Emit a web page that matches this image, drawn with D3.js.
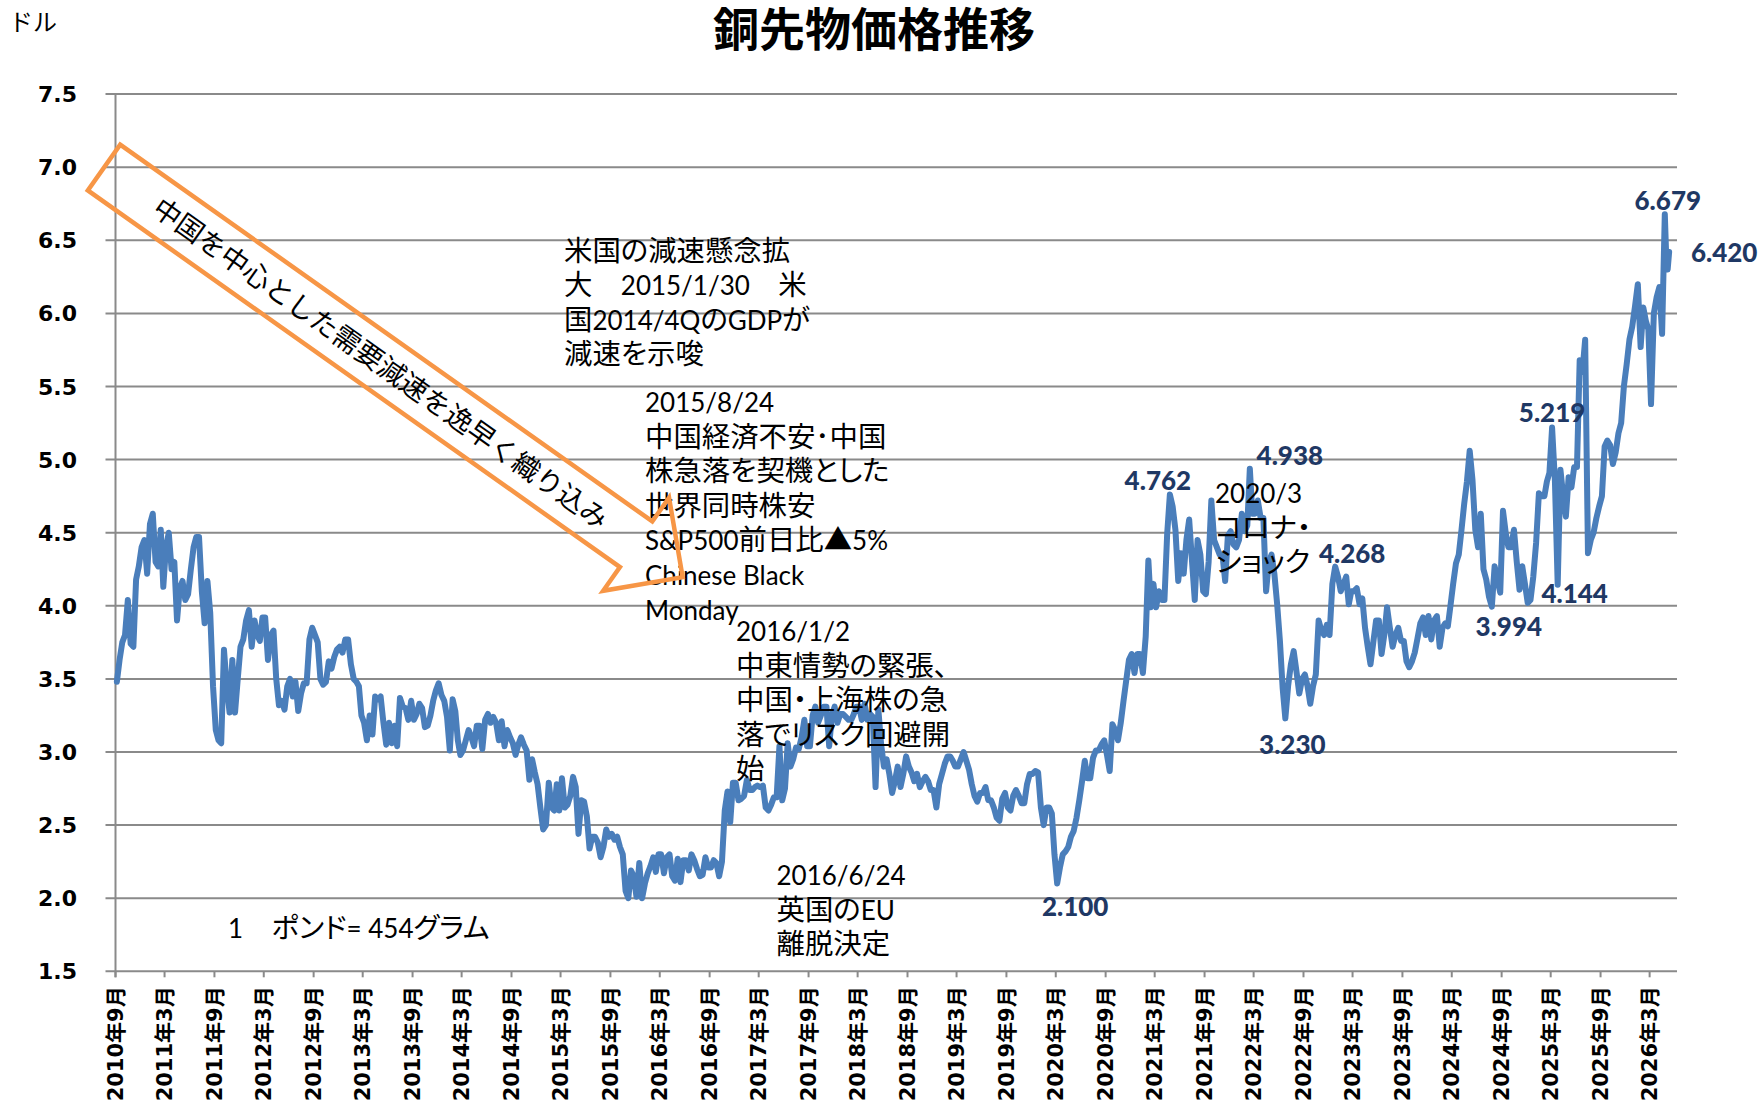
<!DOCTYPE html>
<html><head><meta charset="utf-8">
<script src="https://cdn.jsdelivr.net/npm/d3@7"></script>
<style>html,body{margin:0;padding:0;background:#fff}svg{display:block}</style>
</head><body>
<svg id="chart" width="1762" height="1110"></svg>
<script>
// ---------------- DATA ----------------
const years = [2010,2011,2012,2013,2014,2015,2016,2017,2018,2019,2020,2021,2022,2023,2024,2025,2026];
const firstMonths = [9,1,1,1,1,1,1,1,1,1,1,1,1,1,1,1,1];

// each inner array: readings within one month (USD per lb)
const p2010 = [[3.48,3.63,3.75],[3.80,4.04,3.74],[3.72,4.18,4.27],[4.40,4.45,4.22]];
const p2011 = [[4.56,4.63,4.30],[4.27,4.52,4.13],[4.40,4.50,4.25],[4.30,3.90,4.12],[4.17,4.04,4.08],[4.25,4.40,4.47],
               [4.47,4.10,3.88],[4.17,3.95,3.45],[3.15,3.08,3.06],[3.70,3.45,3.27],[3.63,3.27,3.50],[3.72,3.77,3.90]];
const p2012 = [[3.97,3.72,3.90],[3.80,3.76,3.92],[3.92,3.63,3.80],[3.83,3.50,3.32],[3.35,3.29,3.45],[3.50,3.38,3.48],
               [3.28,3.40,3.47],[3.47,3.77,3.85],[3.80,3.75,3.50],[3.46,3.48,3.62],[3.57,3.65,3.70],[3.72,3.68,3.77]];
const p2013 = [[3.77,3.60,3.50],[3.48,3.45,3.25],[3.20,3.08,3.25],[3.12,3.38,3.36],[3.38,3.20,3.05],[3.20,3.06,3.18],
               [3.04,3.37,3.31],[3.30,3.22,3.35],[3.22,3.26,3.33],[3.30,3.17,3.18],[3.25,3.35,3.42],[3.47,3.39,3.35]];
const p2014 = [[3.24,3.01,3.36],[3.28,3.08,2.98],[3.01,3.08,3.15],[3.10,3.04,3.18],[3.18,3.02,3.22],[3.26,3.20,3.24],
               [3.20,3.08,3.21],[3.04,3.15,3.10],[3.06,2.98,3.05],[3.10,3.05,3.01],[2.81,2.95,2.86],[2.78,2.62,2.47]];
const p2015 = [[2.50,2.79,2.62],[2.60,2.78,2.60],[2.82,2.62,2.64],[2.70,2.83,2.76],[2.44,2.67,2.66],[2.56,2.34,2.42],
               [2.42,2.38,2.28],[2.35,2.47,2.42],[2.44,2.40,2.42],[2.35,2.30,2.05],[2.00,2.19,2.15],[2.01,2.24,2.00]];
const p2016 = [[2.10,2.17,2.22],[2.28,2.18,2.30],[2.30,2.17,2.28],[2.30,2.15,2.12],[2.27,2.11,2.26],[2.26,2.19,2.30],
               [2.26,2.20,2.15],[2.16,2.28,2.21],[2.21,2.26,2.24],[2.15,2.25,2.60],[2.73,2.52,2.79],[2.79,2.67,2.68]];
const p2017 = [[2.70,2.81,2.74],[2.74,2.76,2.77],[2.76,2.77,2.62],[2.60,2.64,2.69],[2.69,3.04,2.67],[2.75,3.06,2.90],
               [2.95,3.03,3.02],[3.10,3.22,3.04],[3.04,3.25,3.31],[3.20,3.25,3.31],[3.31,3.04,3.25],[3.31,3.20,3.26]];
const p2018 = [[3.26,3.24,3.22],[3.22,3.26,3.31],[3.31,3.22,3.33],[3.22,3.26,3.24],[2.76,3.29,3.05],[2.90,2.95,2.85],
               [2.72,2.80,2.90],[2.76,2.85,2.97],[2.90,2.86,2.80],[2.85,2.76,2.80],[2.83,2.80,2.74],[2.74,2.62,2.78]];
const p2019 = [[2.85,2.92,2.97],[2.97,2.94,2.90],[2.90,2.95,3.00],[2.94,2.88,2.78],[2.70,2.66,2.72],[2.72,2.76,2.67],
               [2.67,2.62,2.55],[2.53,2.68,2.72],[2.62,2.60,2.70],[2.74,2.70,2.65],[2.65,2.78,2.85],[2.85,2.87,2.86]];
const p2020 = [[2.62,2.50,2.62],[2.62,2.58,2.30],[2.10,2.21,2.30],[2.32,2.35,2.42],[2.46,2.55,2.67],[2.80,2.94,2.82],
               [2.82,2.96,3.01],[3.01,3.05,3.08],[2.98,2.87,3.19],[3.15,3.08,3.20],[3.35,3.49,3.63],[3.67,3.54,3.67]];
const p2021 = [[3.67,3.54,3.79],[4.31,3.99,4.15],[3.99,4.10,4.04],[4.04,4.49,4.762],[4.68,4.52,4.17],[4.36,4.22,4.45],
               [4.59,4.31,4.04],[4.45,4.35,4.10],[4.08,4.30,4.72],[4.45,4.40,4.35],[4.35,4.17,4.48],[4.51,4.42,4.40]];
const p2022 = [[4.45,4.63,4.51],[4.55,4.938,4.63],[4.63,4.72,4.60],[4.60,4.10,4.30],[4.35,4.22,4.01],[3.76,3.44,3.23],
               [3.45,3.60,3.69],[3.55,3.40,3.50],[3.53,3.45,3.33],[3.45,3.53,3.90],[3.83,3.80,3.87],[3.80,4.15,4.268]];
const p2023 = [[4.20,4.10,4.15],[4.20,4.01,4.10],[4.10,4.12,4.01],[4.05,3.85,3.72],[3.60,3.75,3.90],[3.90,3.67,3.80],
               [3.99,3.85,3.72],[3.80,3.85,3.76],[3.76,3.62,3.58],[3.62,3.68,3.78],[3.88,3.92,3.80],[3.93,3.77,3.90]];
const p2024 = [[3.93,3.72,3.85],[3.88,3.86,4.00],[4.15,4.29,4.35],[4.52,4.70,4.85],[5.06,4.86,4.52],[4.40,4.63,4.25],
               [4.18,4.06,3.994],[4.27,4.18,4.09],[4.65,4.50,4.40],[4.40,4.52,4.30],[4.11,4.27,4.15],[4.02,4.04,4.20]];
const p2025 = [[4.43,4.77,4.75],[4.75,4.85,4.91],[5.219,4.86,4.144],[4.93,4.75,4.61],[4.88,4.81,4.95],[4.95,5.68,5.60],
               [5.82,4.36,4.45],[4.50,4.60,4.68],[4.75,5.09,5.13],[5.10,4.97,5.05],[5.18,5.25,5.50],[5.65,5.82,5.91]];
const p2026 = [[6.05,6.20,5.77],[6.04,5.95,5.89],[5.38,6.00,6.11],[6.18,5.86,6.679],[6.40,6.30,6.42]];
const pricesByYear = [p2010,p2011,p2012,p2013,p2014,p2015,p2016,p2017,p2018,p2019,p2020,p2021,p2022,p2023,p2024,p2025,p2026];
const seriesEnd = "2026-05-12";

const xTickLabels = ["2010年9月","2011年3月","2011年9月","2012年3月","2012年9月","2013年3月","2013年9月","2014年3月",
  "2014年9月","2015年3月","2015年9月","2016年3月","2016年9月","2017年3月","2017年9月","2018年3月","2018年9月",
  "2019年3月","2019年9月","2020年3月","2020年9月","2021年3月","2021年9月","2022年3月","2022年9月","2023年3月",
  "2023年9月","2024年3月","2024年9月","2025年3月","2025年9月","2026年3月"];
const yTickValues = [1.5,2.0,2.5,3.0,3.5,4.0,4.5,5.0,5.5,6.0,6.5,7.0,7.5];

const calloutValues = [4.762,4.938,4.268,3.230,2.100,3.994,4.144,5.219,6.679,6.420];
const calloutMonths = ["2021-04","2022-02","2022-12","2022-06","2020-03","2024-07","2025-03","2025-03","2026-04","2026-05"];

const titleText = "銅先物価格推移";
const unitText = "ドル";
const arrowText = "中国を中心とした需要減速を逸早く織り込み";
const noteTexts = [
  ["米国の減速懸念拡","大　2015/1/30　米","国2014/4QのGDPが","減速を示唆"],
  ["2015/8/24","中国経済不安･中国","株急落を契機とした","世界同時株安","S&P500前日比▲5%","Chinese Black","Monday"],
  ["2016/1/2","中東情勢の緊張、","中国・上海株の急","落でリスク回避開","始"],
  ["2016/6/24","英国のEU","離脱決定"],
  ["2020/3","コロナ・","ショック"],
  ["1　ポンド= 454グラム"]
];

// ---------------- LAYOUT ----------------
const M = {left:115.5, right:1677, top:94.1, bottom:971.3};
const notePos = [[564,260.5],[645,412],[736,641],[776.5,885],[1215,503],[228,938]];
const noteLineGap = 34.6;
const calloutOffsets = [[-12,-13],[40,-13],[17,-13],[7,27],[18,23],[17,20],[17,9],[0,-15],[3,-13],[55,1]];
const arrowGeom = {cx:104, cy:167.5, angle:35.3, len:652, half:28, headHalf:57, tip:709};
const gridColor = "#8a8a8a";
const lineColor = "#4a7ebb";
const orange = "#f79646";
const navy = "#1f3864";
const cjk = "Lato, 'Noto Sans CJK JP'";   // Lato metrics, CJK glyphs fall back to Noto

// ---------------- BUILD SERIES ----------------
const series = [];
years.forEach((yr, i) => {
  pricesByYear[i].forEach((vals, j) => {
    const mo = firstMonths[i] - 1 + j;
    const start = new Date(yr, mo, 1);
    const isLast = i === years.length - 1 && j === pricesByYear[i].length - 1;
    const end = isLast ? new Date(seriesEnd + "T00:00:00") : new Date(yr, mo + 1, 1);
    const n = vals.length;
    const key = yr + "-" + String(mo + 1).padStart(2, "0");
    vals.forEach((v, k) => {
      const f = isLast ? k / (n - 1) : (k + 0.5) / n;
      series.push({date: new Date(+start + (end - start) * f), value: v, key});
    });
  });
});

const tickDates = xTickLabels.map(s => {
  const m = s.match(/(\d+)年(\d+)月/);
  return new Date(+m[1], +m[2] - 1, 1);
});

const x = d3.scaleTime().domain([new Date(2010, 8, 1), new Date(2026, 5, 10)]).range([M.left, M.right]);
const y = d3.scaleLinear().domain([1.5, 7.5]).range([M.bottom, M.top]);

const svg = d3.select("#chart");

// gridlines + x axis line
svg.append("g").selectAll("line").data(yTickValues).join("line")
  .attr("x1", M.left - 10).attr("x2", M.right)
  .attr("y1", d => y(d)).attr("y2", d => y(d))
  .attr("stroke", gridColor).attr("stroke-width", 2);

// y axis line
svg.append("line").attr("x1", M.left).attr("x2", M.left)
  .attr("y1", M.top).attr("y2", M.bottom + 6)
  .attr("stroke", gridColor).attr("stroke-width", 2);

// x ticks
svg.append("g").selectAll("line").data(tickDates).join("line")
  .attr("x1", d => x(d)).attr("x2", d => x(d))
  .attr("y1", M.bottom).attr("y2", M.bottom + 6)
  .attr("stroke", gridColor).attr("stroke-width", 2);

// y labels
svg.append("g").selectAll("text").data(yTickValues).join("text")
  .attr("x", 77).attr("y", d => y(d) + 8)
  .attr("text-anchor", "end")
  .attr("font-family", "'DejaVu Sans', sans-serif").attr("font-weight", "bold").attr("font-size", 22)
  .attr("fill", "#000").text(d => d3.format(".1f")(d));

// x labels
svg.append("g").selectAll("text").data(tickDates).join("text")
  .attr("transform", (d) => `translate(${x(d) + 7.5},${M.bottom + 15}) rotate(-90)`)
  .attr("text-anchor", "end")
  .attr("font-family", "'DejaVu Sans', 'Noto Sans CJK JP'").attr("font-weight", "bold").attr("font-size", 21)
  .attr("fill", "#000").text((d, i) => xTickLabels[i]);

// data line
const line = d3.line().x(d => x(d.date)).y(d => y(d.value));
svg.append("path").datum(series)
  .attr("d", line).attr("fill", "none")
  .attr("stroke", lineColor).attr("stroke-width", 6)
  .attr("stroke-linejoin", "round").attr("stroke-linecap", "round");

// notes: one <text> per note; flat run tspans, first run of each line positioned
noteTexts.forEach((lines, i) => {
  const t = svg.append("text").attr("fill", "#000").style("white-space", "pre");
  lines.forEach((s, k) => {
    (s.match(/[\x20-\x7E]+|[^\x20-\x7E]+/g) || []).forEach((run, r) => {
      const latin = /^[\x20-\x7E]+$/.test(run);
      const ts = t.append("tspan")
        .attr("font-family", latin ? "Lato, sans-serif" : cjk)
        .attr("font-size", latin ? 26 : 28.4)
        .style("font-feature-settings", latin ? "normal" : "'palt' 1")
        .text(run);
      if (r === 0) ts.attr("x", notePos[i][0]).attr("y", notePos[i][1] + k * noteLineGap);
    });
  });
});

// arrow
const A = arrowGeom;
const arrowPts = [[0,-A.half],[A.len,-A.half],[A.len,-A.headHalf],[A.tip,0],[A.len,A.headHalf],[A.len,A.half],[0,A.half]];
const ag = svg.append("g").attr("transform", `translate(${A.cx},${A.cy}) rotate(${A.angle})`);
ag.append("polygon").attr("points", arrowPts.map(p => p.join(",")).join(" "))
  .attr("fill", "none").attr("stroke", orange).attr("stroke-width", 4.5).attr("stroke-linejoin", "miter");
ag.append("text").attr("x", 339).attr("y", 10).attr("text-anchor", "middle")
  .attr("font-family", cjk).attr("font-size", 27.5).attr("fill", "#000").text(arrowText);

// callouts
calloutValues.forEach((v, i) => {
  const pts = series.filter(d => d.key === calloutMonths[i]);
  const p = pts.reduce((a, b) => Math.abs(b.value - v) < Math.abs(a.value - v) ? b : a);
  svg.append("text")
    .attr("x", x(p.date) + calloutOffsets[i][0])
    .attr("y", y(p.value) + calloutOffsets[i][1] + 9)
    .attr("text-anchor", "middle")
    .attr("font-family", "Lato, sans-serif").attr("font-weight", 900).attr("font-size", 26)
    .attr("fill", navy).text(d3.format(".3f")(v));
});

// title + unit
svg.append("text").attr("x", 874).attr("y", 46).attr("text-anchor", "middle")
  .attr("font-family", cjk).attr("font-weight", "bold").attr("font-size", 46).attr("fill", "#000").text(titleText);
svg.append("text").attr("x", 9).attr("y", 31)
  .attr("font-family", cjk).attr("font-size", 24).attr("fill", "#000").text(unitText);
</script>
</body></html>
